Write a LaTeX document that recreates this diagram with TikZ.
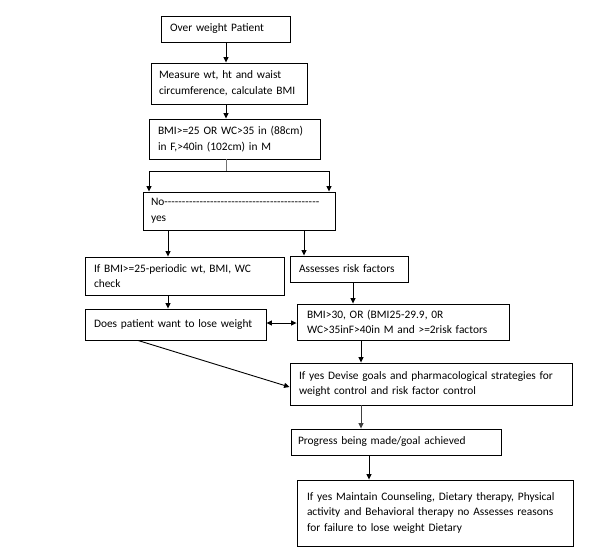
\documentclass[tikz,border=0pt]{standalone}
\usepackage{fontspec}
\setmainfont{Carlito}
\usetikzlibrary{arrows.meta,calc}
\tikzset{
  box/.style={draw=black, line width=0.9pt, align=left, inner ysep=0pt,
    font=\fontsize{11.4}{15.5}\selectfont},
  arr/.style={line width=0.9pt, -{Triangle[length=5.5pt,width=5pt]}},
  dblarr/.style={line width=0.9pt, {Triangle[length=5.5pt,width=5pt]}-{Triangle[length=5.5pt,width=5pt]}},
  ln/.style={line width=0.9pt},
}
% \bx{name}{x}{y}{W}{H}{pad}{text}
\newcommand\bx[7]{%
  \pgfmathsetmacro\tw{#4-2*#6}%
  \node[box, minimum width=#4pt, minimum height=#5pt, text width=\tw pt, inner xsep=#6pt]
    (#1) at ({#2+#4/2},{#3+#5/2}) {#7};}
\begin{document}
\begin{tikzpicture}[x=1pt,y=-1pt]
\useasboundingbox (0,0) rectangle (591,547);
\bx{b1}{161}{16}{129}{26}{9}{Over weight Patient}
\bx{b2}{151}{63}{156}{41}{8}{Measure wt, ht and waist\\circumference, calculate BMI}
\bx{b3}{149}{119}{171}{40}{9}{BMI>=25 OR WC>35 in (88cm)\\in F,>40in (102cm) in M}
\bx{b4}{143}{192}{192}{38}{8}{No\hbox to 155pt{\xleaders\hbox{-}\hfill}\\yes}
\bx{b5}{85}{257}{199}{38}{9}{If BMI>=25-periodic wt, BMI, WC\\check}
\bx{b6}{290}{256}{118}{26}{9}{Assesses risk factors}
\bx{b7}{85}{309}{181}{31}{9}{Does patient want to lose weight}
\bx{b8}{297}{304}{212}{36}{10}{BMI>30, OR (BMI25-29.9, 0R\\WC>35inF>40in M and >=2risk factors}
\bx{b9}{290}{363}{282}{42}{9}{If yes Devise goals and pharmacological strategies for\\weight control and risk factor control}
\bx{b10}{291}{429}{210}{26}{7}{Progress being made/goal achieved}
\bx{b11}{297}{480}{276}{66}{10}{If yes Maintain Counseling, Dietary therapy, Physical\\activity and Behavioral therapy no Assesses reasons\\for failure to lose weight Dietary\par\vspace{7pt}}
% connectors
\draw[arr] (b1.south -| 226,0) -- (b2.north -| 226,0);
\draw[arr] (b2.south -| 226,0) -- (b3.north -| 226,0);
\coordinate (split) at (226,171);
\draw[ln, black!55] (b3.south -| split) -- (split);
\coordinate (sl) at (149,171);
\coordinate (sr) at (329,171);
\draw[ln] (sl) -- (sr);
\draw[arr] (sl) -- (b4.north -| sl);
\draw[arr] (sr) -- (b4.north -| sr);
\draw[arr] (b4.south -| 168,0) -- (b5.north -| 168,0);
\draw[arr] (b4.south -| 304,0) -- (b6.north -| 304,0);
\draw[arr] (b5.south -| 168,0) -- (b7.north -| 168,0);
\draw[arr] (b6.south -| 353,0) -- (b8.north -| 353,0);
\draw[dblarr] (b7.east |- 0,323) -- (b8.west |- 0,323);
\draw[arr] (b8.south -| 361,0) -- (b9.north -| 361,0);
\draw[arr] (b7.south -| 138,0) -- (b9.west |- 0,387);
\draw[arr, black!75] (b9.south -| 361,0) -- (b10.north -| 361,0);
\draw[arr] (b10.south -| 369,0) -- (b11.north -| 369,0);
\end{tikzpicture}
\end{document}
